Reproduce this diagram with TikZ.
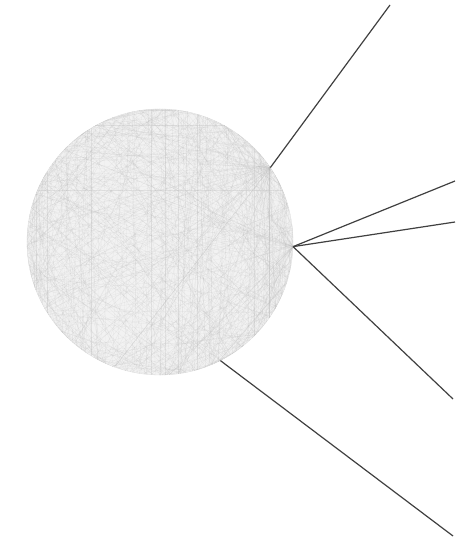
\documentclass[tikz,border=0pt]{standalone}
\tikzset{
  hubstyle/.style={circle, minimum size=266pt, inner sep=0pt, fill=gray!10, draw=gray!25, line width=0.3pt},
  chord/.style={draw=gray!55, line width=0.15pt, opacity=0.3},
  vchord/.style={draw=gray!60, line width=0.15pt, opacity=0.25},
  spoke/.style={draw=black!75, line width=1.2pt}
}
\begin{document}
\begin{tikzpicture}[x=1pt,y=1pt]
\useasboundingbox (0,0) rectangle (466,538);
\node[hubstyle] (hub) at (160,296) {};
\pgfmathsetseed{11}
\foreach \i in {1,...,450}{
  \pgfmathtruncatemacro\a{random(0,359)}
  \pgfmathtruncatemacro\b{random(0,359)}
  \draw[chord] (hub.\a) -- (hub.\b);
}
\foreach \i in {1,...,90}{
  \pgfmathtruncatemacro\a{random(15,165)}
  \pgfmathtruncatemacro\b{-\a+random(-6,6)}
  \draw[vchord] (hub.\a) -- (hub.\b);
}
\foreach \i in {1,...,40}{
  \pgfmathtruncatemacro\b{random(90,330)}
  \draw[chord] (hub.34) -- (hub.\b);
  \pgfmathtruncatemacro\c{random(60,320)}
  \draw[chord] (hub.-2) -- (hub.\c);
}
\coordinate (e1) at (390,533);
\coordinate (e2) at (455,357);
\coordinate (e3) at (455,316);
\coordinate (e4) at (453,139);
\coordinate (e5) at (453,2);
\draw[spoke] (hub.34) -- (e1);
\draw[spoke] (hub.-2) -- (e2);
\draw[spoke] (hub.-2) -- (e3);
\draw[spoke] (hub.-2) -- (e4);
\draw[spoke] (hub.-63) -- (e5);
\end{tikzpicture}
\end{document}
